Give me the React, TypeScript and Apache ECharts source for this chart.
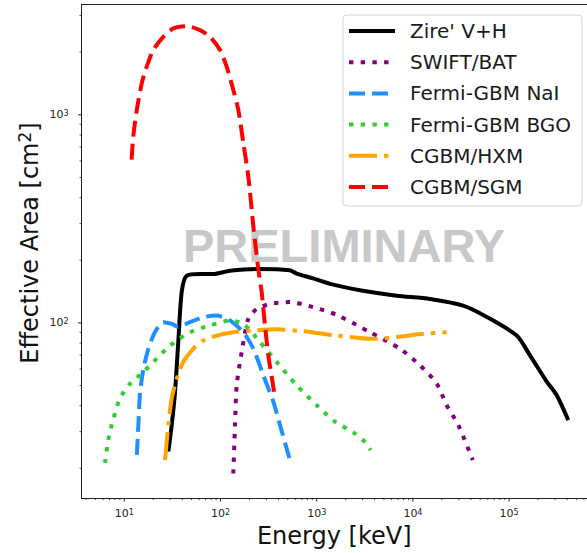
import React, { useEffect, useRef } from "react";
import * as echarts from "echarts";

// ---- data (energy in keV, effective area in cm^2) ----
const zireEnergy = [28.7, 31.1, 33.7, 36.4, 39.5, 44.5, 61.2, 83.6, 125.6, 237.8, 527, 620, 900, 1374, 3030, 6790, 15060, 33200, 58500, 120000, 164800, 246000, 312600, 412000];
const zireArea = [24.1, 32.3, 46.8, 81.1, 140.8, 168.4, 171.6, 171.6, 177.9, 181.3, 179, 172.5, 164, 154, 142.7, 135.1, 130.3, 121, 106.8, 86.9, 69.8, 52.2, 44.9, 34.1];

const batEnergy = [135.8, 141.5, 147.3, 166, 194.5, 237.8, 327, 527, 922, 1614, 3580, 7340, 11860, 17670, 22440, 29650, 41850];
const batArea = [18.9, 32.3, 50.1, 72.4, 104.5, 116.7, 123.3, 126, 118.9, 109.2, 90.2, 75.1, 62.5, 51.1, 40.2, 32.3, 21.9];

const naiEnergy = [13.5, 14.0, 14.6, 15.8, 17.8, 20.8, 25.4, 31.3, 36.2, 48.2, 66.2, 91.3, 125.6, 172.6, 219.3, 278.6, 354, 415, 527];
const naiArea = [23.2, 32.3, 46.6, 60.2, 75.1, 90.2, 100.8, 98.9, 95.7, 100.8, 106.5, 108.4, 102.6, 90.2, 75.1, 56, 41.8, 32.3, 21.9];

const bgoEnergy = [6.3, 6.8, 7.7, 9.0, 11.5, 15.8, 21.7, 29.9, 48.2, 77.8, 125.6, 172.6, 257.5, 384, 620, 1000, 1549, 2400, 3050, 3640];
const bgoArea = [21.2, 27.3, 34.7, 43.3, 51.1, 58.1, 67.3, 77.9, 90.2, 97.1, 102.6, 98.9, 80.9, 64.9, 50.1, 40.2, 33.5, 29.8, 27.3, 24.5];

const hxmEnergy = [26.5, 28.7, 31.1, 35.1, 41.0, 52.1, 66.2, 91.3, 135.8, 219.3, 384, 726, 1614, 3875, 6790, 12830, 22440];
const hxmArea = [21.9, 32.3, 43.3, 54, 64.9, 75.1, 82.3, 86.9, 90.2, 91.9, 93.1, 91.1, 86.9, 83.8, 85.5, 88.6, 90.2];

const sgmEnergy = [11.9, 12.4, 13.5, 15.2, 17.1, 20.0, 25.4, 32.3, 44.5, 61.2, 77.8, 98.8, 115.9, 135.8, 153.1, 172.6, 194.5, 219.3, 247, 268, 290, 314, 343, 369];
const sgmArea = [609, 787, 1057, 1419, 1703, 2047, 2370, 2600, 2666, 2551, 2370, 2047, 1703, 1317, 1057, 732, 507, 292, 181.3, 140.3, 97.1, 69.8, 54, 43.3];

const seriesNames = ["Zire' V+H", "SWIFT/BAT", "Fermi-GBM NaI", "Fermi-GBM BGO", "CGBM/HXM", "CGBM/SGM"];

// tick positions
const xMajorTicks = [10, 100, 1000, 10000, 100000];
const xMinorTicks = [4, 5, 6, 7, 8, 9, 20, 30, 40, 50, 60, 70, 80, 90, 200, 300, 400, 500, 600, 700, 800, 900, 2000, 3000, 4000, 5000, 6000, 7000, 8000, 9000, 20000, 30000, 40000, 50000, 60000, 70000, 80000, 90000, 200000, 300000, 400000, 500000, 600000];
const yMajorTicks = [100, 1000];
const yMinorTicks = [20, 30, 40, 50, 60, 70, 80, 90, 200, 300, 400, 500, 600, 700, 800, 900, 2000, 3000];

const X_MIN = 3.59;
const X_MAX = 645000;
const Y_MIN = 14.39;
const Y_MAX = 3388;

const FONT = "DejaVu Sans";

function pairs(xs: number[], ys: number[]) {
  return xs.map((x, i) => [x, ys[i]]);
}

export default function App() {
  const ref = useRef<HTMLDivElement>(null);
  useEffect(() => {
    if (!ref.current) return;
    const chart = echarts.init(ref.current, null, { renderer: "svg" });

    const lineSeries = (name: string, xs: number[], ys: number[], color: string, dash: any, z: number) => ({
      type: "line",
      name,
      data: pairs(xs, ys),
      symbol: "none",
      smooth: 0.25,
      z,
      lineStyle: { color, width: 4, type: dash, cap: "butt", join: "round" },
      itemStyle: { color },
      emphasis: { disabled: true },
    });

    const tickLabel = {
      fontFamily: FONT,
      fontSize: 11,
      color: "#222",
      formatter: (v: number) => "10{s|" + Math.round(Math.log10(v)) + "}",
      rich: {
        s: { fontFamily: FONT, fontSize: 8, verticalAlign: "top", lineHeight: 10, color: "#222" },
      },
      showMinLabel: false,
      showMaxLabel: false,
    };

    const option: any = {
      animation: false,
      grid: { left: 81.5, right: 0, top: 4.5, bottom: 52.5, containLabel: false },
      xAxis: [
        {
          type: "log",
          logBase: 10,
          min: X_MIN,
          max: X_MAX,
          axisLine: { show: true, lineStyle: { color: "#222", width: 1 } },
          axisTick: { show: false },
          splitLine: { show: false },
          minorTick: { show: false },
          axisLabel: { ...tickLabel, margin: 10 },
          name: "Energy [keV]",
          nameLocation: "middle",
          nameGap: 25,
          nameTextStyle: { fontFamily: FONT, fontSize: 24, color: "#111" },
        },
        {
          type: "value",
          position: "top",
          min: 0,
          max: 1,
          axisLine: { show: true, lineStyle: { color: "#222", width: 1 } },
          axisTick: { show: false },
          axisLabel: { show: false },
          splitLine: { show: false },
        },
      ],
      yAxis: [
        {
          type: "log",
          logBase: 10,
          min: Y_MIN,
          max: Y_MAX,
          axisLine: { show: true, lineStyle: { color: "#222", width: 1 } },
          axisTick: { show: false },
          splitLine: { show: false },
          minorTick: { show: false },
          axisLabel: { ...tickLabel, margin: 13 },
        },
      ],
      legend: {
        data: seriesNames,
        orient: "vertical",
        left: 343,
        top: 15,
        padding: [6, 11, 9, 4],
        itemWidth: 46,
        itemHeight: 20,
        itemGap: 11.2,
        backgroundColor: "rgba(255,255,255,0.8)",
        borderColor: "#d3d3d3",
        borderWidth: 1,
        borderRadius: 4,
        selectedMode: false,
        itemStyle: { color: "rgba(0,0,0,0)", borderWidth: 0, opacity: 0 },
        lineStyle: { width: 4 },
        textStyle: { fontFamily: FONT, fontSize: 20, color: "#1a1a1a", padding: [0, 0, 0, 10] },
      },
      graphic: [
        {
          type: "text",
          x: 344,
          y: 245,
          z: 0,
          silent: true,
          style: {
            text: "PRELIMINARY",
            font: "bold 47px 'Liberation Sans'",
            fill: "#c8c8c8",
            textAlign: "center",
            textVerticalAlign: "middle",
          },
        },
        {
          type: "text",
          x: 30,
          y: 243,
          rotation: Math.PI / 2,
          silent: true,
          style: {
            text: "Effective Area [cm{s|2}]",
            fontFamily: FONT,
            fontSize: 24,
            fill: "#111",
            textAlign: "center",
            textVerticalAlign: "middle",
            rich: { s: { fontFamily: FONT, fontSize: 17, verticalAlign: "top", lineHeight: 28, fill: "#111" } },
          },
        },
      ],
      series: [
        lineSeries(seriesNames[0], zireEnergy, zireArea, "#000000", "solid", 2),
        lineSeries(seriesNames[1], batEnergy, batArea, "#800080", [4.4, 7.3], 3),
        lineSeries(seriesNames[2], naiEnergy, naiArea, "#1e90ff", [16, 7], 4),
        lineSeries(seriesNames[3], bgoEnergy, bgoArea, "#32cd32", [4.4, 7.3], 5),
        lineSeries(seriesNames[4], hxmEnergy, hxmArea, "#ffa500", [28, 7, 4.4, 7], 6),
        lineSeries(seriesNames[5], sgmEnergy, sgmArea, "#ff0000", [16, 7], 7),
        {
          type: "custom",
          name: "xticks",
          silent: true,
          clip: false,
          data: [
            ...xMajorTicks.map((v) => [v, Y_MIN, 1]),
            ...xMinorTicks.map((v) => [v, Y_MIN, 0]),
          ],
          renderItem: (params: any, api: any) => {
            const p = api.coord([api.value(0), api.value(1)]);
            const major = api.value(2) === 1;
            const len = major ? 3.5 : 2;
            return {
              type: "line",
              shape: { x1: p[0], y1: p[1], x2: p[0], y2: p[1] + len },
              style: { stroke: "#222", lineWidth: major ? 1 : 0.8 },
            };
          },
        },
        {
          type: "custom",
          name: "yticks",
          silent: true,
          clip: false,
          data: [
            ...yMajorTicks.map((v) => [X_MIN, v, 1]),
            ...yMinorTicks.map((v) => [X_MIN, v, 0]),
          ],
          renderItem: (params: any, api: any) => {
            const p = api.coord([api.value(0), api.value(1)]);
            const major = api.value(2) === 1;
            const len = major ? 3.5 : 2;
            return {
              type: "line",
              shape: { x1: p[0], y1: p[1], x2: p[0] - len, y2: p[1] },
              style: { stroke: "#222", lineWidth: major ? 1 : 0.8 },
            };
          },
        },
      ],
    };

    chart.setOption(option);
    return () => chart.dispose();
  }, []);

  return (
    <div
      ref={ref}
      style={{ position: "absolute", left: 0, top: 0, width: 587, height: 553, background: "#fff" }}
    />
  );
}
